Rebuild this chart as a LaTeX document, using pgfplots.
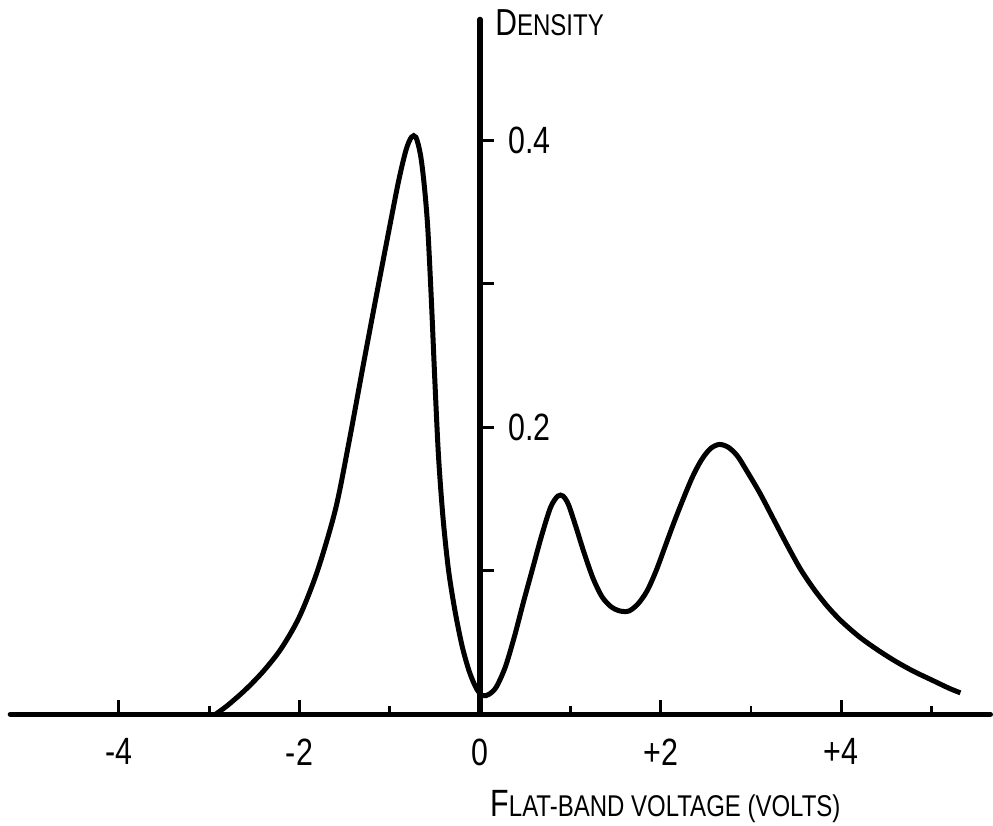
\documentclass[border=0pt]{standalone}
\usepackage{fontspec}
\setmainfont{Liberation Sans}[FakeStretch=0.8]
\usepackage{pgfplots}
\pgfplotsset{compat=1.18}
\begin{document}
\begin{tikzpicture}
\begin{axis}[
  scale only axis,
  width=490pt, height=347.5pt,
  xmin=-5.2, xmax=5.65, ymin=0, ymax=0.484,
  axis lines=middle,
  axis line style={-, line width=2.8pt, line cap=round},
  clip=false,
  tick align=inside,
  hide obscured x ticks=false,
  major tick length=7pt, minor tick length=4pt,
  every tick/.style={black, line width=1.4pt},
  xtick={-4,-2,0,2,4},
  xticklabels={-4,-2,0,+2,+4},
  minor xtick={-3,-1,1,3,5},
  ytick={0.1,0.2,0.3,0.4},
  yticklabels={{},{0.2},{},{0.4}},
  xticklabel style={anchor=north, inner sep=0pt, yshift=-12pt, font=\fontsize{19}{19}\selectfont},
  yticklabel style={anchor=west, inner sep=0pt, xshift=14pt, font=\fontsize{19}{19}\selectfont},
]
\addplot[black, line width=2.5pt, smooth, tension=0.5] coordinates {
(-2.93,0.000) (-2.80,0.006) (-2.60,0.017) (-2.40,0.030) (-2.20,0.046)
(-2.00,0.068) (-1.80,0.100) (-1.60,0.143) (-1.45,0.190) (-1.30,0.241)
(-1.15,0.291) (-1.00,0.340) (-0.90,0.372) (-0.82,0.393) (-0.76,0.402)
(-0.71,0.402) (-0.66,0.390) (-0.62,0.370) (-0.58,0.340) (-0.54,0.290)
(-0.50,0.232) (-0.46,0.180) (-0.41,0.137) (-0.35,0.101) (-0.28,0.073)
(-0.20,0.048) (-0.12,0.030) (-0.04,0.018) (0.03,0.013) (0.10,0.014)
(0.18,0.019) (0.28,0.033) (0.38,0.054) (0.48,0.078) (0.58,0.101)
(0.68,0.124) (0.78,0.144) (0.86,0.152) (0.92,0.152) (0.98,0.146)
(1.06,0.131) (1.15,0.113) (1.25,0.095) (1.35,0.082) (1.45,0.075)
(1.55,0.072) (1.65,0.072) (1.75,0.077) (1.85,0.086) (1.95,0.100)
(2.05,0.117) (2.15,0.134) (2.25,0.150) (2.35,0.165) (2.45,0.177)
(2.55,0.185) (2.65,0.188) (2.75,0.186) (2.85,0.180) (2.95,0.170)
(3.10,0.154) (3.25,0.136) (3.40,0.118) (3.55,0.101) (3.70,0.087)
(3.85,0.075) (4.00,0.065) (4.20,0.054) (4.40,0.045) (4.60,0.037)
(4.80,0.030) (5.00,0.024) (5.20,0.018) (5.32,0.015)
};
\node[anchor=base west, inner sep=0pt] at (axis cs:0.166,0.473)
  {{\fontsize{18.8}{19}\selectfont D}{\fontsize{15}{15}\selectfont ENSITY}};
\node[anchor=base west, inner sep=0pt] at (axis cs:0.11,-0.071)
  {{\fontsize{19}{19}\selectfont F}{\fontsize{15}{15}\selectfont LAT-BAND VOLTAGE (VOLTS)}};
\path (axis cs:-5.316,-0.0772) rectangle (axis cs:5.681,0.4976);
\end{axis}
\end{tikzpicture}
\end{document}
